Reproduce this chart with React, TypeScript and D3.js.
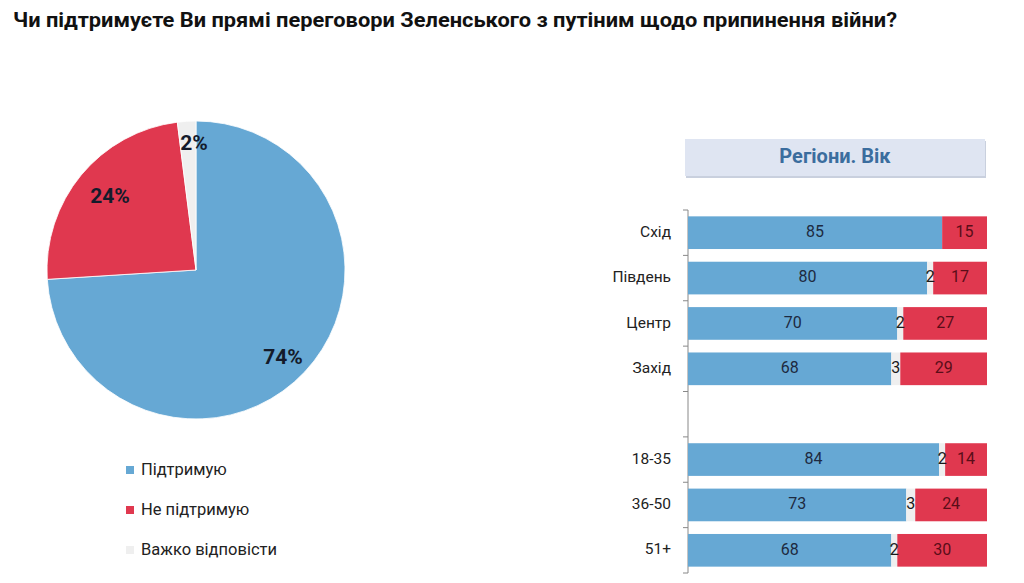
import React from 'react';
import * as d3 from 'd3';

const title = 'Чи підтримуєте Ви прямі переговори Зеленського з путіним щодо припинення війни?';

// pie
const pieLabels = ['Підтримую', 'Не підтримую', 'Важко відповісти'];
const pieValues = [74, 24, 2];
const pieColors = ['#66a8d4', '#e0384f', '#efefef'];

// bars
const groupTitle = 'Регіони. Вік';
const categories = ['Схід', 'Південь', 'Центр', 'Захід', '', '18-35', '36-50', '51+'];
const supportVals = [85, 80, 70, 68, null, 84, 73, 68];
const hardVals = [0, 2, 2, 3, null, 2, 3, 2];
const againstVals = [15, 17, 27, 29, null, 14, 24, 30];

const W = 1008;
const H = 567;
const FONT = 'Roboto, "Liberation Sans", Arial, sans-serif';

const App: React.FC = () => {
  // pie geometry
  const cx = 188, cy = 262, r = 149;
  const pie = d3.pie<number>().sort(null).value(d => d)(pieValues);
  const arc = d3.arc<d3.PieArcDatum<number>>().innerRadius(0).outerRadius(r);
  const labelOffsets = [
    [87, 88],
    [-86, -73],
    [-2, -126],
  ];

  // bars geometry (svg coords; body margin of 8 subtracted)
  const x = d3.scaleLinear().domain([0, 100]).range([680, 979]);
  const y = d3.scaleBand<string>()
    .domain(categories.map((c, i) => `${i}`))
    .range([202, 565])
    .paddingInner(0.28)
    .paddingOuter(0.14);

  return (
    <svg width={W} height={H} style={{ display: 'block', fontFamily: FONT }}>
      <rect width={W} height={H} fill="#fff" />
      <text x={5} y={19} fontSize={21} fontWeight="bold" fill="#111" textLength={884} lengthAdjust="spacingAndGlyphs">{title}</text>

      {/* pie */}
      <g transform={`translate(${cx},${cy})`}>
        {pie.map((p, i) => (
          <path key={i} d={arc(p) || ''} fill={pieColors[i]} stroke="#fff" strokeWidth={0.8} />
        ))}
        {pie.map((p, i) => (
          <text key={'l' + i} x={labelOffsets[i][0]} y={labelOffsets[i][1]} textAnchor="middle"
            fontSize={21} fontWeight="bold" fill="#141b2b" dominantBaseline="middle">
            {pieValues[i]}%
          </text>
        ))}
      </g>

      {/* pie legend */}
      {pieLabels.map((l, i) => (
        <g key={l} transform={`translate(118,${463 + i * 40})`}>
          <rect x={0} y={-5} width={8} height={8} fill={pieColors[i]} />
          <text x={15} y={0} fontSize={16.5} fill="#222" dominantBaseline="middle">{l}</text>
        </g>
      ))}

      {/* group header */}
      <rect x={678} y={133} width={300} height={37} fill="#c9d0de" />
      <rect x={677} y={131} width={300} height={37} fill="#dfe5f2" />
      <text x={827} y={150} textAnchor="middle" dominantBaseline="middle" fontSize={20}
        fontWeight="bold" fill="#3b6d9e">{groupTitle}</text>

      {/* axis */}
      <line x1={680} x2={680} y1={202} y2={565} stroke="#888" strokeWidth={1} />
      {d3.range(categories.length + 1).map(i => {
        const ty = 202 + (363 / categories.length) * i;
        return <line key={'t' + i} x1={675} x2={680} y1={ty} y2={ty} stroke="#888" strokeWidth={1} />;
      })}

      {categories.map((c, i) => {
        const s = supportVals[i];
        if (s === null) return null;
        const h = hardVals[i] as number;
        const a = againstVals[i] as number;
        const by = y(`${i}`) as number;
        const bh = y.bandwidth();
        const mid = by + bh / 2;
        return (
          <g key={c}>
            <text x={663} y={mid} textAnchor="end" dominantBaseline="middle" fontSize={15.5} fill="#222">{c}</text>
            <rect x={x(0)} y={by} width={x(s) - x(0)} height={bh} fill={pieColors[0]} />
            {h > 0 && <rect x={x(s)} y={by} width={x(s + h) - x(s)} height={bh} fill={pieColors[2]} />}
            <rect x={x(s + h)} y={by} width={x(100) - x(s + h)} height={bh} fill={pieColors[1]} />
            <text x={(x(0) + x(s)) / 2} y={mid} textAnchor="middle" dominantBaseline="middle" fontSize={16} fill="#1d2a40">{s}</text>
            {h > 0 && <text x={(x(s) + x(s + h)) / 2} y={mid} textAnchor="middle" dominantBaseline="middle" fontSize={16} fill="#1a1a1a">{h}</text>}
            <text x={(x(s + h) + x(100)) / 2} y={mid} textAnchor="middle" dominantBaseline="middle" fontSize={16} fill="#5a0d18">{a}</text>
          </g>
        );
      })}
    </svg>
  );
};

export default App;
